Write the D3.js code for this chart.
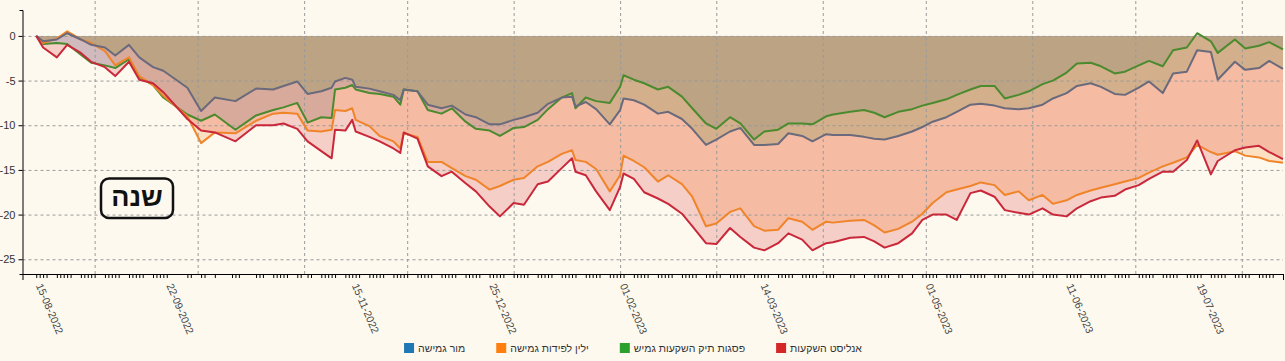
<!DOCTYPE html>
<html>
<head>
<meta charset="utf-8">
<script src="https://cdn.jsdelivr.net/npm/d3@7"></script>
<style>
    body { margin: 0; background: #fdf9ef; font-family: "Liberation Sans", Arial, sans-serif; }
    svg { display: block; }
    .grid line { stroke: #9a9a9a; stroke-dasharray: 3,3; }
    .grid path { display: none; }
    .axis path, .axis line { stroke: #000; }
</style>
</head>
<body>
<svg id="chart" width="1285" height="361"></svg>
<script>
// sample dates (trading days)
var dates = ["15-08-2022","17-08-2022","21-08-2022","24-08-2022","28-08-2022","31-08-2022","04-09-2022","07-09-2022","11-09-2022","14-09-2022",
    "18-09-2022","21-09-2022","28-09-2022","02-10-2022","06-10-2022","12-10-2022","18-10-2022","23-10-2022","26-10-2022","30-10-2022",
    "02-11-2022","06-11-2022","09-11-2022","10-11-2022","13-11-2022","15-11-2022","16-11-2022","20-11-2022","23-11-2022","27-11-2022",
    "29-11-2022","30-11-2022","04-12-2022","07-12-2022","11-12-2022","14-12-2022","18-12-2022","21-12-2022","25-12-2022","28-12-2022",
    "01-01-2023","04-01-2023","08-01-2023","11-01-2023","15-01-2023","18-01-2023","19-01-2023","22-01-2023","25-01-2023","29-01-2023",
    "01-02-2023","02-02-2023","05-02-2023","08-02-2023","12-02-2023","15-02-2023","19-02-2023","22-02-2023","26-02-2023","01-03-2023",
    "05-03-2023","08-03-2023","12-03-2023","15-03-2023","19-03-2023","22-03-2023","26-03-2023","29-03-2023","02-04-2023","04-04-2023",
    "09-04-2023","13-04-2023","16-04-2023","19-04-2023","23-04-2023","27-04-2023","30-04-2023","03-05-2023","07-05-2023","10-05-2023",
    "14-05-2023","17-05-2023","21-05-2023","24-05-2023","28-05-2023","31-05-2023","04-06-2023","07-06-2023","11-06-2023","14-06-2023",
    "18-06-2023","21-06-2023","25-06-2023","28-06-2023","02-07-2023","05-07-2023","09-07-2023","12-07-2023","16-07-2023","19-07-2023",
    "23-07-2023","25-07-2023","30-07-2023","02-08-2023","06-08-2023","09-08-2023","13-08-2023"];

var mor = [0,-0.9,-0.8,-0.9,-2.1,-3.0,-3.3,-3.6,-2.6,-4.6,-5.5,-6.9,-8.8,-9.5,-8.8,-10.5,-8.9,-8.3,-8.0,-7.5,
    -9.7,-9.1,-9.2,-6.0,-5.8,-5.5,-6.0,-6.4,-6.5,-6.8,-7.7,-6.0,-6.2,-8.3,-8.7,-8.1,-9.6,-10.4,-10.6,-11.2,
    -10.3,-10.2,-9.4,-8.2,-6.9,-6.4,-8.1,-6.9,-7.3,-7.5,-5.7,-4.4,-4.9,-5.3,-6.0,-5.7,-6.8,-8.1,-9.8,-10.4,
    -9.1,-9.8,-11.6,-10.7,-10.5,-9.8,-9.8,-9.9,-9.0,-8.8,-8.5,-8.3,-8.6,-9.1,-8.5,-8.2,-7.8,-7.5,-7.1,-6.6,
    -6.0,-5.6,-5.6,-7.0,-6.6,-6.2,-5.4,-5.0,-4.1,-3.1,-3.0,-3.4,-4.2,-4.0,-3.3,-2.8,-3.4,-1.6,-1.3,0.3,
    -0.6,-1.9,-0.4,-1.4,-1.1,-0.7,-1.5];

var yelin = [0,-0.8,-0.3,0.5,-0.4,-0.8,-1.7,-3.3,-2.4,-4.5,-5.5,-6.7,-9.0,-12.0,-10.8,-10.9,-9.5,-8.7,-8.6,-8.7,
    -10.6,-10.7,-10.5,-8.3,-8.4,-8.1,-9.4,-10.1,-11.2,-11.8,-12.6,-10.9,-11.3,-14.1,-14.1,-14.8,-15.7,-16.1,-17.2,-16.8,
    -16.1,-15.9,-14.6,-14.1,-13.2,-12.8,-13.9,-14.1,-14.9,-17.4,-15.6,-13.4,-14.0,-14.7,-16.3,-15.6,-16.6,-18.0,-21.3,-21.0,
    -19.7,-19.3,-21.3,-21.8,-21.7,-20.4,-20.8,-21.7,-20.8,-20.9,-20.7,-20.6,-21.2,-22.0,-21.6,-20.8,-19.9,-18.7,-17.5,-17.2,
    -16.8,-16.4,-16.7,-17.8,-17.4,-18.4,-17.8,-18.8,-18.4,-17.8,-17.3,-17.0,-16.6,-16.3,-15.9,-15.3,-14.6,-14.2,-13.6,-12.2,
    -13.0,-13.3,-12.9,-13.4,-13.6,-14.0,-14.2];

var psagot = [0,-0.6,-0.4,0.3,-0.4,-1.0,-1.3,-2.2,-1.0,-2.4,-3.5,-3.9,-5.8,-8.4,-6.9,-7.3,-5.9,-6.0,-5.6,-5.1,
    -6.5,-6.2,-5.8,-5.1,-4.7,-4.9,-5.7,-5.9,-6.2,-6.6,-7.2,-6.0,-6.2,-7.7,-8.1,-7.8,-8.8,-9.1,-9.9,-9.9,
    -9.4,-9.1,-8.6,-7.6,-6.9,-6.8,-7.9,-7.4,-8.2,-9.9,-8.3,-7.0,-7.2,-7.7,-8.7,-8.5,-9.3,-10.4,-12.2,-11.6,
    -10.7,-10.3,-12.2,-12.2,-12.1,-10.9,-11.2,-11.8,-11.0,-11.1,-11.1,-11.3,-11.5,-11.6,-11.2,-10.7,-10.2,-9.6,-9.1,-8.5,
    -7.7,-7.6,-7.8,-8.1,-8.2,-8.1,-7.7,-7.0,-6.4,-5.6,-5.3,-5.7,-6.5,-6.6,-5.8,-5.1,-6.4,-4.2,-4.0,-1.6,
    -1.8,-4.9,-2.9,-3.8,-3.6,-2.8,-3.7];

var analyst = [0,-1.3,-2.4,-1.0,-1.9,-2.9,-3.5,-4.5,-2.9,-4.9,-5.3,-6.3,-9.3,-10.6,-10.8,-11.8,-10.0,-10.0,-9.8,-10.4,
    -11.8,-12.9,-13.7,-10.5,-10.6,-9.4,-10.7,-11.3,-11.8,-12.6,-13.1,-10.8,-11.5,-14.6,-15.7,-15.2,-16.5,-17.4,-19.1,-20.2,
    -18.7,-18.9,-16.6,-16.3,-14.8,-13.7,-15.2,-15.6,-17.4,-19.5,-16.9,-15.4,-16.0,-17.5,-18.2,-18.8,-19.9,-21.3,-23.2,-23.3,
    -21.5,-22.5,-23.7,-24.0,-23.2,-22.1,-22.8,-24.0,-23.2,-23.1,-22.6,-22.5,-23.0,-23.7,-23.2,-22.1,-20.6,-20.0,-20.0,-20.6,
    -17.6,-17.3,-18.0,-19.5,-19.8,-20.0,-19.3,-20.0,-20.2,-19.3,-18.5,-18.1,-17.9,-17.2,-16.7,-16.0,-15.2,-15.2,-13.9,-11.7,
    -15.5,-14.0,-12.8,-12.5,-12.3,-13.0,-13.8];

var names = ["מור גמישה", "ילין לפידות גמישה", "פסגות תיק השקעות גמיש", "אנליסט השקעות"];
var yTicks = [0, -5, -10, -15, -20, -25];
var labelDates = ["15-08-2022","22-09-2022","15-11-2022","25-12-2022","01-02-2023","14-03-2023","01-05-2023","11-06-2023","19-07-2023"];
var holidays = ["25-09-2022","26-09-2022","27-09-2022","04-10-2022","05-10-2022","09-10-2022","10-10-2022","16-10-2022","17-10-2022",
    "01-11-2022","05-04-2023","06-04-2023","11-04-2023","12-04-2023","25-04-2023","26-04-2023","25-05-2023"];

var fills = d3.schemeCategory10.slice(0, 4);
var strokes = ["#4b8a2e", "#f0842a", "#6a6a7c", "#c9283a"];

var parse = d3.timeParse("%d-%m-%Y"),
    fmt = d3.timeFormat("%d-%m-%Y");

var svg = d3.select("#chart");
var plotLeft = 22.5, plotRight = 1283, plotTop = 10, plotBottom = 274;

var x = d3.scaleTime().domain([parse("11-08-2022"), parse("13-08-2023")]).range([plotLeft, plotRight]);
var y = d3.scaleLinear().domain([-26.65, 2.9]).range([plotBottom, plotTop]);

var series = [mor, yelin, psagot, analyst].map(function (vals, i) {
    return {
        name: names[i],
        fill: fills[i],
        stroke: strokes[i],
        values: vals.map(function (v, j) { return {date: parse(dates[j]), v: v}; })
    };
});

var area = d3.area()
    .x(function (d) { return x(d.date); })
    .y0(y(0))
    .y1(function (d) { return y(d.v); });

var line = d3.line()
    .x(function (d) { return x(d.date); })
    .y(function (d) { return y(d.v); });

// areas
svg.append("g").selectAll("path")
    .data(series)
    .enter()
    .append("path")
    .attr("d", function (d) { return area(d.values); })
    .attr("fill", function (d) { return d.fill; })
    .attr("fill-opacity", 0.2);

// grids
svg.append("g")
    .attr("class", "grid")
    .attr("transform", "translate(0," + plotBottom + ")")
    .call(d3.axisBottom(x).ticks(d3.timeMonth.every(1)).tickSize(-plotBottom).tickFormat(""));

svg.append("g")
    .attr("class", "grid")
    .attr("transform", "translate(" + plotLeft + ",0)")
    .call(d3.axisLeft(y).tickValues(yTicks).tickSize(-(plotRight - plotLeft)).tickFormat(""));

// lines
svg.append("g").selectAll("path")
    .data(series)
    .enter()
    .append("path")
    .attr("d", function (d) { return line(d.values); })
    .attr("fill", "none")
    .attr("stroke", function (d) { return d.stroke; })
    .attr("stroke-width", 2)
    .attr("stroke-linejoin", "round");

// x axis: a tick for every trading day (Sun-Thu)
var tradingDays = d3.timeDay.range(parse("15-08-2022"), d3.timeDay.offset(parse("13-08-2023"), 1))
    .filter(function (d) { return d.getDay() <= 4 && holidays.indexOf(fmt(d)) < 0; });

var xAxis = svg.append("g")
    .attr("class", "axis")
    .attr("transform", "translate(0," + plotBottom + ")")
    .call(d3.axisBottom(x)
        .tickValues(tradingDays)
        .tickSizeInner(4)
        .tickSizeOuter(6)
        .tickFormat(function (d) { return labelDates.indexOf(fmt(d)) >= 0 ? fmt(d) : ""; }));

xAxis.selectAll("text")
    .attr("x", 0)
    .attr("y", 0)
    .attr("dy", "0.35em")
    .attr("transform", "translate(2.5,10) rotate(67)")
    .style("text-anchor", "start")
    .style("font-size", "10.5px")
    .style("font-family", "'Liberation Sans', Arial, sans-serif")
    .attr("fill", "#444");

var yAxis = svg.append("g")
    .attr("class", "axis")
    .attr("transform", "translate(" + plotLeft + ",0)")
    .call(d3.axisLeft(y)
        .tickValues(yTicks)
        .tickSizeInner(4)
        .tickSizeOuter(3)
        .tickPadding(3)
        .tickFormat(function (d) { return String(d); }));

yAxis.selectAll("text")
    .style("font-size", "11px")
    .style("font-family", "'Liberation Sans', Arial, sans-serif")
    .attr("fill", "#333");

// period box
svg.append("rect")
    .attr("x", 101).attr("y", 178.5)
    .attr("width", 72).attr("height", 39.5)
    .attr("rx", 8)
    .attr("fill", "none")
    .attr("stroke", "#111")
    .attr("stroke-width", 2.5);

svg.append("text")
    .attr("x", 137).attr("y", 206)
    .attr("text-anchor", "middle")
    .style("font-size", "27px")
    .style("font-weight", "bold")
    .attr("fill", "#111")
    .text("שנה");

// legend
var legend = svg.append("g");
var items = legend.selectAll("g")
    .data(series)
    .enter()
    .append("g");

items.append("rect")
    .attr("width", 10).attr("height", 10)
    .attr("y", 343)
    .attr("fill", function (d) { return d.fill; });

items.append("text")
    .attr("y", 352)
    .style("font-size", "10.5px")
    .attr("fill", "#333")
    .text(function (d) { return d.name; });

var widths = [];
items.selectAll("text").each(function () { widths.push(this.getComputedTextLength()); });
var gap = 31, total = 0;
widths.forEach(function (w, i) { total += 14 + w + (i < widths.length - 1 ? gap : 0); });
var cx = 633 - total / 2;
items.each(function (d, i) {
    var g = d3.select(this);
    g.select("rect").attr("x", cx);
    g.select("text").attr("x", cx + 14);
    cx += 14 + widths[i] + gap;
});
</script>
</body>
</html>
